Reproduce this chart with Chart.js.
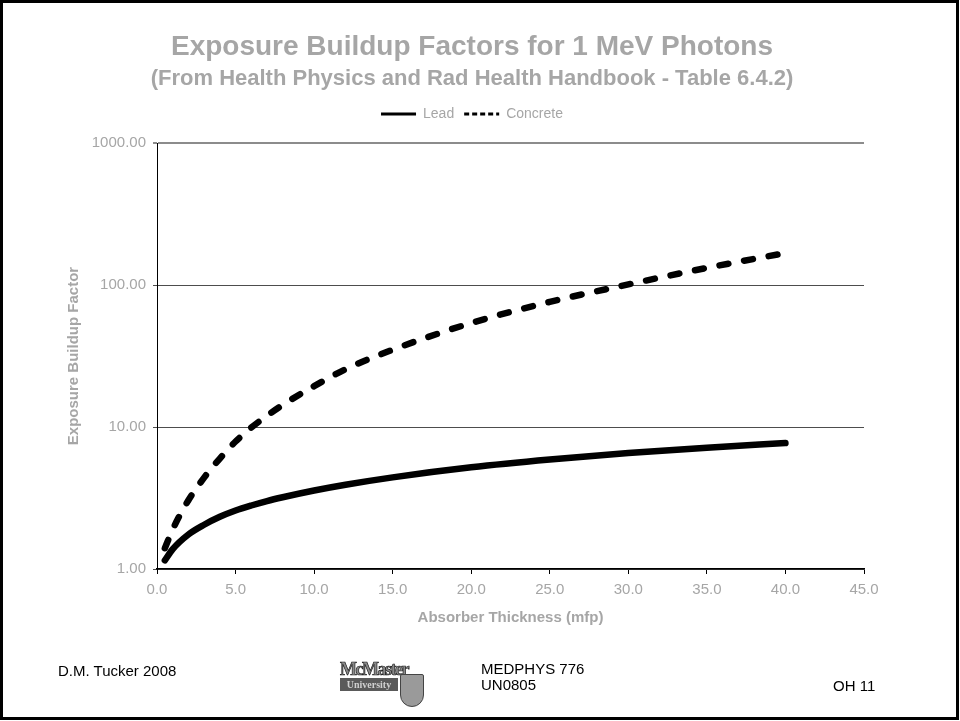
<!DOCTYPE html>
<html>
<head>
<meta charset="utf-8">
<title>Exposure Buildup Factors for 1 MeV Photons</title>
<script src="https://cdn.jsdelivr.net/npm/chart.js@4"></script>
<style>
  html, body { margin: 0; padding: 0; background: #fff; }
  #slide { position: relative; width: 960px; height: 721px; overflow: hidden; font-family: "Liberation Sans", Arial, sans-serif; }
  #frame { position: absolute; left: 0; top: 0; width: 959px; height: 720px; box-sizing: border-box; border: 3px solid #000; }
  canvas { position: absolute; left: 0; top: 0; }
  .foot { position: absolute; font-size: 15px; line-height: 16px; color: #000; white-space: nowrap; }
  #logo { position: absolute; left: 340px; top: 660px; width: 86px; height: 48px; }
  #logo .mc { position: absolute; left: 0; top: 0; font: bold 18px/18px "Liberation Serif", serif; color: #8a8a8a; letter-spacing: -1.5px; -webkit-text-stroke: 0.7px #222; }
  #logo .uni { position: absolute; left: 0; top: 18px; width: 58px; background: #5a5a5a; color: #d0d0d0; font: bold 10px/13px "Liberation Serif", serif; text-align: center; }
  #logo .shield { position: absolute; left: 60px; top: 14px; width: 24px; height: 33px; background: #9a9a9a; border: 1px solid #444; border-radius: 2px 2px 12px 12px; box-sizing: border-box; }
</style>
</head>
<body>
<div id="slide">
  <canvas id="chart" width="960" height="721"></canvas>
  <div id="frame"></div>
  <div class="foot" style="left:58px; top:663px;">D.M. Tucker 2008</div>
  <div id="logo"><div class="mc">McMaster</div><div class="uni">University</div><div class="shield"></div></div>
  <div class="foot" style="left:481px; top:661px;">MEDPHYS 776<br>UN0805</div>
  <div class="foot" style="left:833px; top:678px;">OH 11</div>
</div>
<script>
// absorber thickness in mean free paths
const thickness = [0.5, 1, 2, 3, 4, 5, 6, 7, 8, 10, 12, 15, 20, 25, 30, 35, 40];
// exposure buildup factors
const lead =     [1.15, 1.38, 1.75, 2.05, 2.33, 2.58, 2.8, 3.01, 3.2, 3.57, 3.92, 4.42, 5.2, 5.9, 6.55, 7.15, 7.7];
const concrete = [1.4, 1.9, 3.05, 4.4, 6.0, 7.9, 9.9, 12.0, 14.3, 19.4, 25.5, 35, 54, 76, 101, 132, 168];

const xTicks = [0, 5, 10, 15, 20, 25, 30, 35, 40, 45];
const yTicks = [1, 10, 100, 1000];

const grey = '#a6a6a6';
Chart.defaults.font.family = '"Liberation Sans", Arial, sans-serif';

const pts = ys => thickness.map((x, i) => ({ x: x, y: ys[i] }));

// extra room between the legend and the plot
const legendGap = {
    id: 'legendGap',
    beforeInit(chart) {
        const fit = chart.legend.fit;
        chart.legend.fit = function () {
            fit.call(this);
            this.height += 12;
        };
    }
};

new Chart(document.getElementById('chart'), {
    type: 'line',
    data: {
        datasets: [{
            label: 'Lead',
            data: pts(lead),
            borderColor: '#000',
            borderWidth: 6.5,
            borderCapStyle: 'round',
            borderJoinStyle: 'round',
            pointRadius: 0,
            cubicInterpolationMode: 'monotone'
        }, {
            label: 'Concrete',
            data: pts(concrete),
            borderColor: '#000',
            borderWidth: 6.5,
            borderDash: [9, 16],
            borderCapStyle: 'round',
            borderJoinStyle: 'round',
            pointRadius: 0,
            cubicInterpolationMode: 'monotone'
        }]
    },
    options: {
        responsive: false,
        animation: false,
        layout: { padding: { left: 80, right: 96, top: 0, bottom: 94 } },
        plugins: {
            title: {
                display: true,
                text: 'Exposure Buildup Factors for 1 MeV Photons',
                color: grey,
                font: { size: 28, weight: 'bold' },
                padding: { top: 30, bottom: 0 }
            },
            subtitle: {
                display: true,
                text: '(From Health Physics and Rad Health Handbook - Table 6.4.2)',
                color: grey,
                font: { size: 22, weight: 'bold' },
                padding: { top: 2, bottom: 5 }
            },
            legend: {
                position: 'top',
                labels: {
                    color: grey,
                    font: { size: 14 },
                    usePointStyle: true,
                    pointStyle: 'line',
                    pointStyleWidth: 35,
                    padding: 10,
                    generateLabels(chart) {
                        return Chart.defaults.plugins.legend.labels.generateLabels(chart).map((item, i) => {
                            item.lineWidth = 3;
                            item.lineDash = i === 1 ? [5, 3] : [];
                            item.lineCap = 'butt';
                            item.pointStyle = 'line';
                            return item;
                        });
                    }
                }
            },
            tooltip: { enabled: false }
        },
        scales: {
            x: {
                type: 'linear',
                min: 0,
                max: 45,
                afterBuildTicks: scale => { scale.ticks = xTicks.map(v => ({ value: v })); },
                grid: { drawOnChartArea: false, tickLength: 5, color: '#000', tickColor: '#000' },
                border: { color: '#000', width: 1.5 },
                ticks: { color: grey, font: { size: 15 }, padding: 7, callback: v => v.toFixed(1) },
                title: {
                    display: true,
                    text: 'Absorber Thickness (mfp)',
                    color: grey,
                    font: { size: 15, weight: 'bold' },
                    padding: { top: 3, bottom: 0 }
                }
            },
            y: {
                type: 'logarithmic',
                min: 1,
                max: 1000,
                afterBuildTicks: scale => { scale.ticks = yTicks.map(v => ({ value: v })); },
                afterFit: scale => { scale.width = 77; },
                grid: {
                    color: c => c.tick && c.tick.value === 1000 ? '#8c8c8c' : '#4d4d4d',
                    lineWidth: c => c.tick && c.tick.value === 1000 ? 2 : 1,
                    tickLength: 4
                },
                border: { color: '#000', width: 1 },
                ticks: { color: grey, font: { size: 15 }, padding: 7, callback: v => Number(v).toFixed(2) },
                title: {
                    display: true,
                    text: 'Exposure Buildup Factor',
                    color: grey,
                    font: { size: 15, weight: 'bold' },
                    padding: { top: -15.5, bottom: 0 }
                }
            }
        }
    },
    plugins: [legendGap]
});
</script>
</body>
</html>
